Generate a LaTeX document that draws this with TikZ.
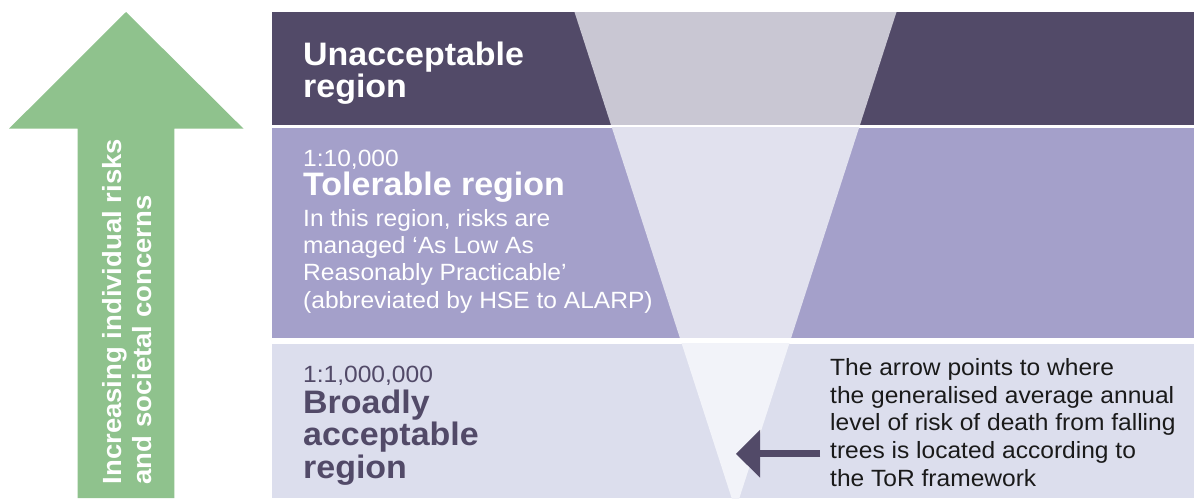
\documentclass[tikz,border=0pt]{standalone}
\usepackage{fontspec}
\setmainfont{Liberation Sans}[FakeStretch=1.045]
\definecolor{darkband}{HTML}{524A68}
\definecolor{tolband}{HTML}{A4A0CA}
\definecolor{broadband}{HTML}{DCDEED}
\definecolor{tridark}{HTML}{C9C7D3}
\definecolor{tritol}{HTML}{E1E1EE}
\definecolor{tribroad}{HTML}{F2F3F9}
\definecolor{arrowgreen}{HTML}{8FC28D}
\definecolor{notetext}{HTML}{1A1A1A}
\tikzset{
  titletext/.style={anchor=base west, inner sep=0pt, font=\fontsize{32.5}{31.5}\selectfont\bfseries},
  smalltext/.style={anchor=base west, inner sep=0pt, font=\fontsize{23.5}{27.5}\selectfont},
  sidetext/.style={anchor=base west, inner sep=0pt, rotate=90, text=white, font=\fontsize{26.3}{30}\selectfont\bfseries},
}
\begin{document}
\begin{tikzpicture}[x=1pt,y=-1pt]
\useasboundingbox (0,0) rectangle (1194,498);
\fill[white] (0,0) rectangle (1194,498);
% green arrow
\fill[arrowgreen] (126,12) -- (243.5,128.7) -- (174.3,128.7) -- (174.3,498) -- (77.7,498) -- (77.7,128.7) -- (9,128.7) -- cycle;
\node[sidetext] (side1) at (121.5,484.5) {Increasing individual risks};
\node[sidetext] (side2) at (151.5,484.5) {and societal concerns};
% bands with funnel
\begin{scope}
  \clip (272,12) rectangle (1194,124.5);
  \fill[darkband] (272,12) rectangle (1194,124.5);
  \fill[tridark] (574.5,12) -- (896.5,12) -- (735.5,510) -- cycle;
\end{scope}
\begin{scope}
  \clip (272,127.8) rectangle (1194,337.8);
  \fill[tolband] (272,127.8) rectangle (1194,337.8);
  \fill[tritol] (574.5,12) -- (896.5,12) -- (735.5,510) -- cycle;
\end{scope}
\begin{scope}
  \clip (272,343.6) rectangle (1194,498);
  \fill[broadband] (272,343.6) rectangle (1194,498);
  \fill[tribroad] (574.5,12) -- (896.5,12) -- (735.5,510) -- cycle;
\end{scope}
% texts
\node[titletext, text=white] (un1) at (303,65.7) {Unacceptable};
\node[titletext, text=white] (un2) at (303,97) {region};
\node[smalltext, text=white] (tolratio) at (303,166) {1:10,000};
\node[titletext, text=white] (toltitle) at (303,195) {Tolerable region};
\node[smalltext, text=white] (tolb1) at (303,226) {In this region, risks are};
\node[smalltext, text=white] (tolb2) at (303,253.4) {managed ‘As Low As};
\node[smalltext, text=white] (tolb3) at (303,280.8) {Reasonably Practicable’};
\node[smalltext, text=white] (tolb4) at (303,308.2) {(abbreviated by HSE to ALARP)};
\node[smalltext, text=darkband] (brratio) at (303,382.7) {1:1,000,000};
\node[titletext, text=darkband] (br1) at (303,413.3) {Broadly};
\node[titletext, text=darkband] (br2) at (303,445.8) {acceptable};
\node[titletext, text=darkband] (br3) at (303,478) {region};
\node[smalltext, text=notetext] (note1) at (830,375) {The arrow points to where};
\node[smalltext, text=notetext] (note2) at (830,403) {the generalised average annual};
\node[smalltext, text=notetext] (note3) at (830,430.8) {level of risk of death from falling};
\node[smalltext, text=notetext] (note4) at (830,458.5) {trees is located according to};
\node[smalltext, text=notetext] (note5) at (830,486.5) {the ToR framework};
% pointer arrow
\coordinate (notestart) at (820,453.8);
\coordinate (notetip) at (736,453.8);
\draw[darkband, line width=7.3pt, shorten >=20pt] (notestart) -- (notetip);
\fill[darkband] (notetip) -- ++(24,-23.9) -- ++(0,47.8) -- cycle;
\end{tikzpicture}
\end{document}
